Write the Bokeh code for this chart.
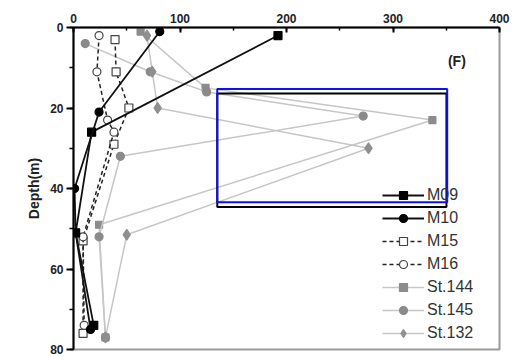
from bokeh.plotting import figure
from bokeh.models import Range1d, SingleIntervalTicker, Legend, LegendItem, BoxAnnotation, Label
from bokeh.embed import file_html
from bokeh.resources import INLINE

# ---- data (concentration vs depth) ----
m09_x = [192, 17, 2, 19]
m09_d = [2, 26, 51, 74]
m10_x = [81, 24, 1, 2, 16]
m10_d = [1, 21, 40, 51, 75]
m15_x = [39, 40, 52, 38, 9, 9]
m15_d = [3, 11, 20, 29, 53, 76]
m16_x = [24, 22, 32, 38, 9, 10]
m16_d = [2, 11, 23, 26, 52, 74]
st144_x = [63, 124, 337, 24, 30]
st144_d = [1, 15, 23, 49, 77]
st145_x = [11, 72, 125, 272, 44, 24, 30]
st145_d = [4, 11, 16, 22, 32, 52, 77]
st132_x = [69, 74, 79, 277, 50, 30]
st132_d = [2, 11, 20, 30, 51.5, 77]

x_ticks_interval = 100
y_ticks_interval = 20

FONT = "Liberation Sans"

p = figure(width=530, height=357, x_range=Range1d(0, 400), y_range=Range1d(80, 0),
           x_axis_location="above", output_backend="svg", toolbar_location=None,
           min_border_left=73, min_border_right=31, min_border_top=27, min_border_bottom=8)
p.grid.visible = False
p.background_fill_color = "white"
p.border_fill_color = "white"
p.outline_line_color = "#9a9a9a"
p.outline_line_width = 2

# axes
p.xaxis.ticker = SingleIntervalTicker(interval=x_ticks_interval, num_minor_ticks=2)
p.yaxis.ticker = SingleIntervalTicker(interval=y_ticks_interval, num_minor_ticks=2)
for ax in (p.xaxis[0], p.yaxis[0]):
    ax.axis_line_width = 2
    ax.axis_line_color = "black"
    ax.major_tick_line_width = 2
    ax.minor_tick_line_width = 1.5
    ax.major_label_text_font = FONT
    ax.major_label_text_font_style = "bold"
    ax.major_label_text_font_size = "12px"
    ax.major_label_text_color = "#222222"
p.xaxis.major_tick_in = 5
p.xaxis.major_tick_out = 0
p.xaxis.minor_tick_in = 3
p.xaxis.minor_tick_out = 0
p.xaxis.major_label_standoff = 5
p.yaxis.major_tick_in = 0
p.yaxis.major_tick_out = 7
p.yaxis.minor_tick_in = 0
p.yaxis.minor_tick_out = 4
p.yaxis.major_label_standoff = 3
p.yaxis.axis_label = "Depth(m)"
p.yaxis.axis_label_text_font = FONT
p.yaxis.axis_label_text_font_style = "bold"
p.yaxis.axis_label_text_font_size = "14px"
p.yaxis.axis_label_text_color = "#222222"
p.yaxis.axis_label_standoff = 5

items = []
GRAY_LINE = "#c6c6c6"

def series(xs, ds, label, marker, line_color, line_dash, mfill, mline, msize, lw):
    lr = p.line(xs, ds, line_color=line_color, line_width=lw, line_dash=line_dash)
    sr = p.scatter(xs, ds, marker=marker, size=msize, fill_color=mfill, line_color=mline, line_width=1.2)
    items.append(LegendItem(label=label, renderers=[lr, sr]))

# gray station series first (drawn beneath)
series(st144_x, st144_d, "St.144", "square", GRAY_LINE, "solid", "#8c8c8c", "#8c8c8c", 7, 1.5)
series(st145_x, st145_d, "St.145", "circle", GRAY_LINE, "solid", "#8a8a8a", "#8a8a8a", 8, 1.5)
series(st132_x, st132_d, "St.132", "diamond", GRAY_LINE, "solid", "#8f8f8f", "#8f8f8f", 11, 1.5)
series(m15_x, m15_d, "M15", "square", "#222222", "4 3", "white", "#444444", 8, 1.5)
series(m16_x, m16_d, "M16", "circle", "#222222", "4 3", "white", "#444444", 8, 1.5)
series(m09_x, m09_d, "M09", "square", "#111111", "solid", "black", "black", 8, 1.8)
series(m10_x, m10_d, "M10", "circle", "#111111", "solid", "black", "black", 8, 1.8)

order = ["M09", "M10", "M15", "M16", "St.144", "St.145", "St.132"]
items_sorted = [next(i for i in items if i.label.value == o) for o in order]

legend = Legend(items=items_sorted, location=(309, 6), glyph_width=42, glyph_height=20,
                label_height=20, spacing=3, padding=0, margin=0, label_standoff=3,
                label_text_font=FONT, label_text_font_size="16px", label_text_color="#333333",
                background_fill_alpha=0, border_line_alpha=0)
p.add_layout(legend)

p.add_layout(Label(x=360, y=8.4, text="(F)", text_font=FONT, text_font_style="bold",
                   text_font_size="14px", text_align="center", text_baseline="middle",
                   text_color="#222222"))

# overlay boxes
p.add_layout(BoxAnnotation(left=135, right=350.2, top=16.4, bottom=44.6, fill_alpha=0,
                           line_color="black", line_alpha=1, line_width=2))
p.add_layout(BoxAnnotation(left=135, right=350.9, top=15.3, bottom=43.4, fill_alpha=0,
                           line_color="#1010ee", line_alpha=1, line_width=2))

open("out.html", "w").write(file_html(p, INLINE))
